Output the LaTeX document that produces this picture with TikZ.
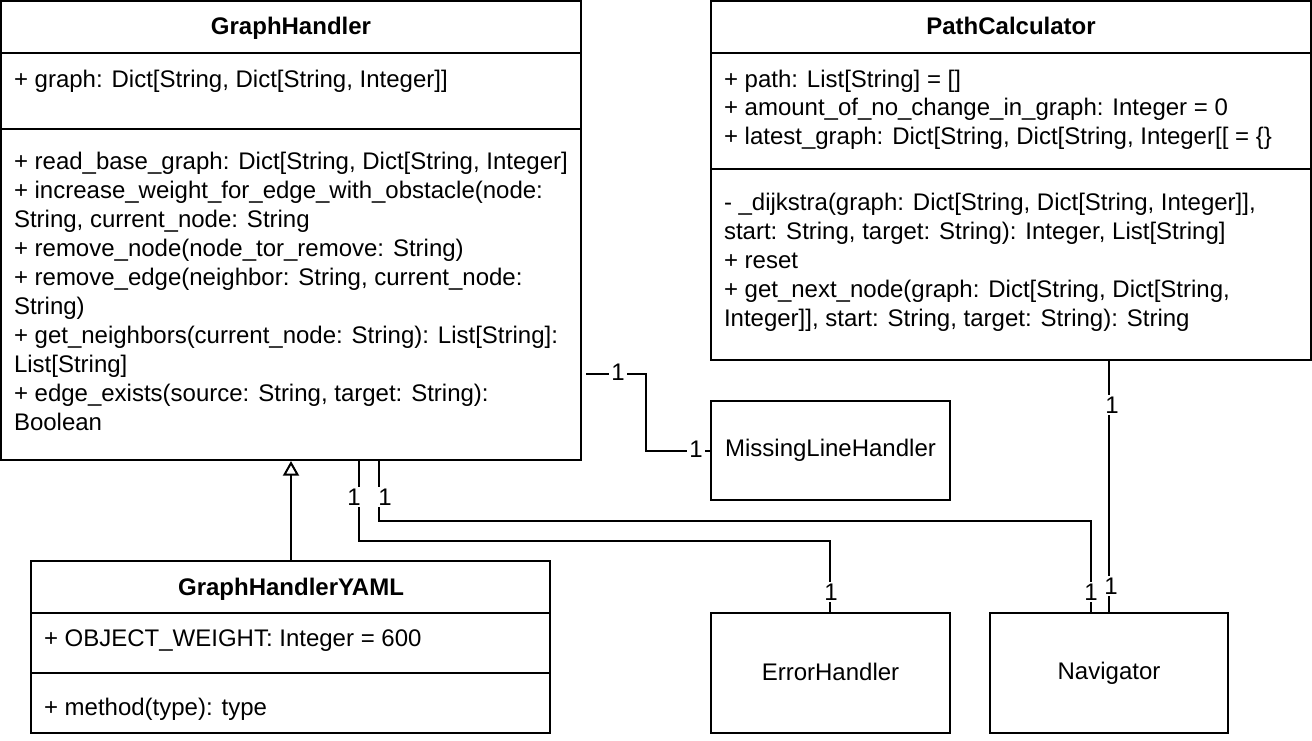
\documentclass[tikz,border=0pt]{standalone}
\usepackage{fontspec}
\setmainfont{Liberation Sans}
\usetikzlibrary{fit,arrows.meta}
\begin{document}
\begin{tikzpicture}[x=0.75pt,y=-0.75pt,line width=1.5pt,
  font=\fontsize{18}{21.6}\selectfont,
  box/.style={draw,inner sep=0pt,fill=white},
  txt/.style={anchor=base west,inner sep=0pt},
  ttl/.style={anchor=base,inner sep=0pt,font=\fontsize{18}{21.6}\selectfont\bfseries},
  ctr/.style={inner sep=0pt},
  mult/.style={fill=white,inner sep=1.5pt},
  conn/.style={draw,line width=1.5pt}]
\useasboundingbox[fill=white] (0,0) rectangle (1312,740);

% GraphHandler
\node[box,fit={(1,1)(581,460)}] (gh) {};
\draw (1,53) -- (581,53);
\draw (1,129) -- (581,129);
\node[ttl] at (291,34) {GraphHandler};
\node[txt] at (13,87) {+ graph: Dict[String, Dict[String, Integer]]};
\node[txt] at (13,169) {+ read\_base\_graph: Dict[String, Dict[String, Integer]};
\node[txt] at (13,198) {+ increase\_weight\_for\_edge\_with\_obstacle(node:};
\node[txt] at (13,227) {String, current\_node: String};
\node[txt] at (13,256) {+ remove\_node(node\_tor\_remove: String)};
\node[txt] at (13,285) {+ remove\_edge(neighbor: String, current\_node:};
\node[txt] at (13,314) {String)};
\node[txt] at (13,343) {+ get\_neighbors(current\_node: String): List[String]:};
\node[txt] at (13,372) {List[String]};
\node[txt] at (13,401) {+ edge\_exists(source: String, target: String):};
\node[txt] at (13,430) {Boolean};

% PathCalculator
\node[box,fit={(711,1)(1311,360)}] (pc) {};
\draw (711,53) -- (1311,53);
\draw (711,169) -- (1311,169);
\node[ttl] at (1011,34) {PathCalculator};
\node[txt] at (723,87) {+ path: List[String] = []};
\node[txt] at (723,115) {+ amount\_of\_no\_change\_in\_graph: Integer = 0};
\node[txt] at (723,144) {+ latest\_graph: Dict[String, Dict[String, Integer[[ = \{\}};
\node[txt] at (723,210) {- \_dijkstra(graph: Dict[String, Dict[String, Integer]],};
\node[txt] at (723,239) {start: String, target: String): Integer, List[String]};
\node[txt] at (723,268) {+ reset};
\node[txt] at (723,297) {+ get\_next\_node(graph: Dict[String, Dict[String,};
\node[txt] at (723,326) {Integer]], start: String, target: String): String};

% MissingLineHandler
\node[box,fit={(711,401)(950,500)}] (mlh) {};
\node[ctr] at (mlh.center) {MissingLineHandler};

% GraphHandlerYAML
\node[box,fit={(31,561)(550,733)}] (yaml) {};
\draw (31,613) -- (550,613);
\draw (31,673) -- (550,673);
\node[ttl] at (291,595) {GraphHandlerYAML};
\node[txt] at (43,646) {+ OBJECT\_WEIGHT: Integer = 600};
\node[txt] at (43,715) {+ method(type): type};

% ErrorHandler
\node[box,fit={(711,613)(950,733)}] (eh) {};
\node[ctr] at ([yshift=1pt]eh.center) {ErrorHandler};

% Navigator
\node[box,fit={(990,613)(1228,733)}] (nav) {};
\node[ctr] at (nav.center) {Navigator};

% connectors
\draw[conn] ([xshift=3pt]gh.east |- 0,374) -- (646,374) |- (mlh.west);
\node[mult] at (618,372) {1};
\node[mult] at (696,449) {1};

\draw[conn,-{Triangle[open,length=11pt,width=12pt,line width=1.5pt]}] (yaml.north -| 291,0) -- (gh.south -| 291,0);

\draw[conn] (gh.south -| 359,0) -- (359,541) -| (eh.north -| 830,0);
\node[mult] at (354,497) {1};
\node[mult] at (831,592) {1};

\draw[conn] (gh.south -| 379,0) -- (379,521) -| (nav.north -| 1091,0);
\node[mult] at (385,497) {1};
\node[mult] at (1091,592) {1};

\draw[conn] (pc.south -| 1109,0) -- (nav.north -| 1109,0);
\node[mult] at (1112,405) {1};
\node[mult] at (1111,586) {1};
\end{tikzpicture}
\end{document}
